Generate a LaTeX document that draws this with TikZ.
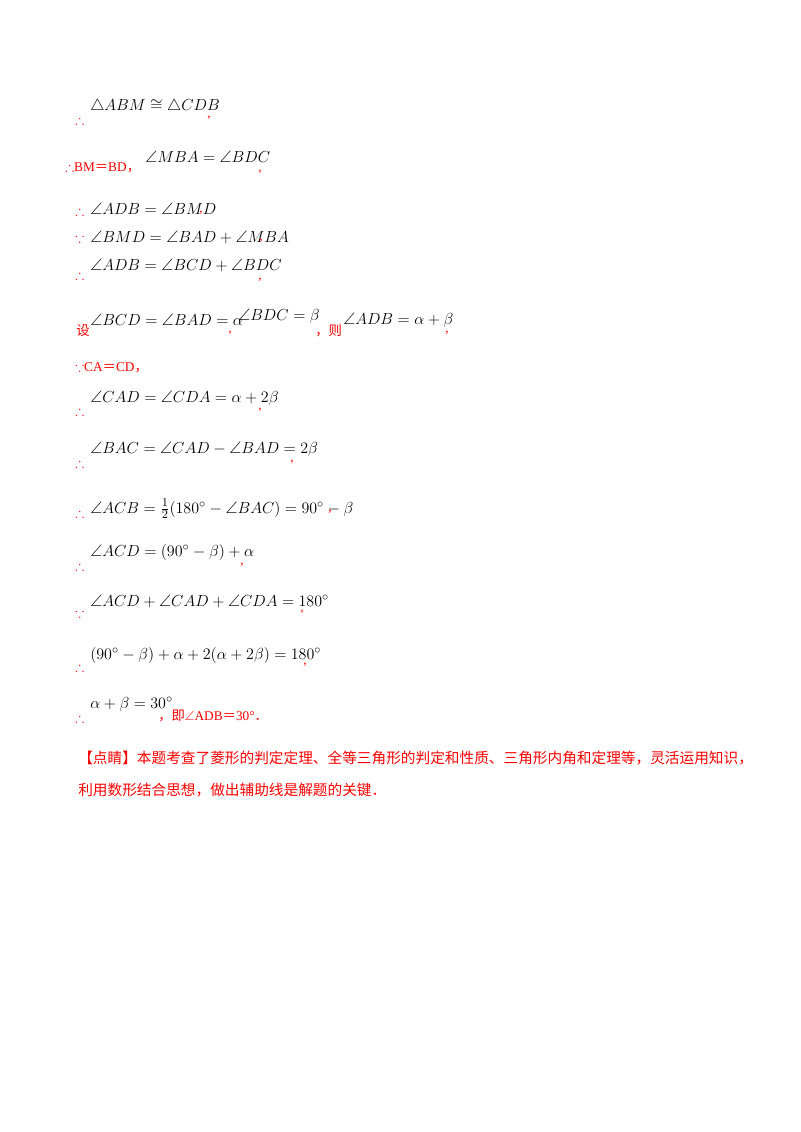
\documentclass[tikz,border=0pt]{standalone}
\usepackage{fontspec}
\usepackage{amssymb}
\setmainfont{Liberation Serif}
\newfontfamily\cjk{Noto Sans CJK SC}
\definecolor{rd}{RGB}{250,0,0}
\begin{document}
\begin{tikzpicture}[x=0.75pt,y=-0.75pt,
  m/.style={anchor=west,inner sep=0pt,font=\fontsize{12.5}{14}\selectfont},
  r/.style={anchor=west,inner sep=0pt,text=rd,font=\fontsize{10}{12}\selectfont}]
\useasboundingbox (0,0) rectangle (800,1132);
% 1
\node[r] (t1) at (75,120) {$\therefore$};
\node[m] (a1) at (90,106) {$\triangle ABM\cong\triangle CDB$};
\node[r] (c1) at (207,118) {,};
% 2
\node[r] (t2) at (65,168) {$\therefore$BM{\cjk＝}BD{\cjk，}};
\node[m] (a2) at (145,157) {$\angle MBA=\angle BDC$};
\node[r] (c2) at (258,172) {,};
% 3
\node[r] (t3) at (75,211) {$\therefore$};
\node[m] (a3) at (90,209) {$\angle ADB=\angle BMD$};
\node[r] (c3) at (199,213) {,};
% 4
\node[r] (t4) at (75,238) {$\because$};
\node[m] (a4) at (90,237) {$\angle BMD=\angle BAD+\angle MBA$};
\node[r] (c4) at (259,241) {,};
% 5
\node[r] (t5) at (75,275) {$\therefore$};
\node[m] (a5) at (90,265) {$\angle ADB=\angle BCD+\angle BDC$};
\node[r] (c5) at (258,280) {,};
% 6
\node[r] (t6) at (76,331) {\cjk 设};
\node[m] (a6) at (90,320) {$\angle BCD=\angle BAD=\alpha$};
\node[r] (c6) at (228,333) {,};
\node[m] (b6) at (238,316) {$\angle BDC=\beta$};
\node[r] (d6) at (315,331) {{\cjk ，则}};
\node[m] (e6) at (343,320) {$\angle ADB=\alpha+\beta$};
\node[r] (f6) at (445,333) {,};
% 7
\node[r] (t7) at (75,368) {$\because$CA{\cjk＝}CD{\cjk，}};
% 8
\node[r] (t8) at (75,411) {$\therefore$};
\node[m] (a8) at (90,398) {$\angle CAD=\angle CDA=\alpha+2\beta$};
\node[r] (c8) at (258,410) {,};
% 9
\node[r] (t9) at (75,463) {$\therefore$};
\node[m] (a9) at (90,449) {$\angle BAC=\angle CAD-\angle BAD=2\beta$};
\node[r] (c9) at (290,462) {,};
% 10
\node[r] (t10) at (75,513) {$\therefore$};
\node[m] (a10) at (90,509) {$\angle ACB=\frac{1}{2}\bigl(180^\circ-\angle BAC\bigr)=90^\circ-\beta$};
\node[r] (c10) at (328,512) {,};
% 11
\node[r] (t11) at (75,566) {$\therefore$};
\node[m] (a11) at (90,552) {$\angle ACD=\bigl(90^\circ-\beta\bigr)+\alpha$};
\node[r] (c11) at (240,565) {,};
% 12
\node[r] (t12) at (75,613) {$\because$};
\node[m] (a12) at (90,601) {$\angle ACD+\angle CAD+\angle CDA=180^\circ$};
\node[r] (c12) at (300,612) {,};
% 13
\node[r] (t13) at (75,667) {$\therefore$};
\node[m] (a13) at (90,655) {$\bigl(90^\circ-\beta\bigr)+\alpha+2\bigl(\alpha+2\beta\bigr)=180^\circ$};
\node[r] (c13) at (303,665) {,};
% 14
\node[r] (t14) at (75,718) {$\therefore$};
\node[m] (a14) at (90,704) {$\alpha+\beta=30^\circ$};
\node[r] (c14) at (158,716) {{\cjk ，即}$\angle$ADB{\cjk ＝}30°{\cjk ．}};
% 15-16
\node[r,font=\fontsize{11}{13}\selectfont\cjk] (p1) at (78,758) {【点睛】本题考查了菱形的判定定理、全等三角形的判定和性质、三角形内角和定理等，灵活运用知识，};
\node[r,font=\fontsize{11}{13}\selectfont\cjk] (p2) at (78,790) {利用数形结合思想，做出辅助线是解题的关键．};
\end{tikzpicture}
\end{document}
